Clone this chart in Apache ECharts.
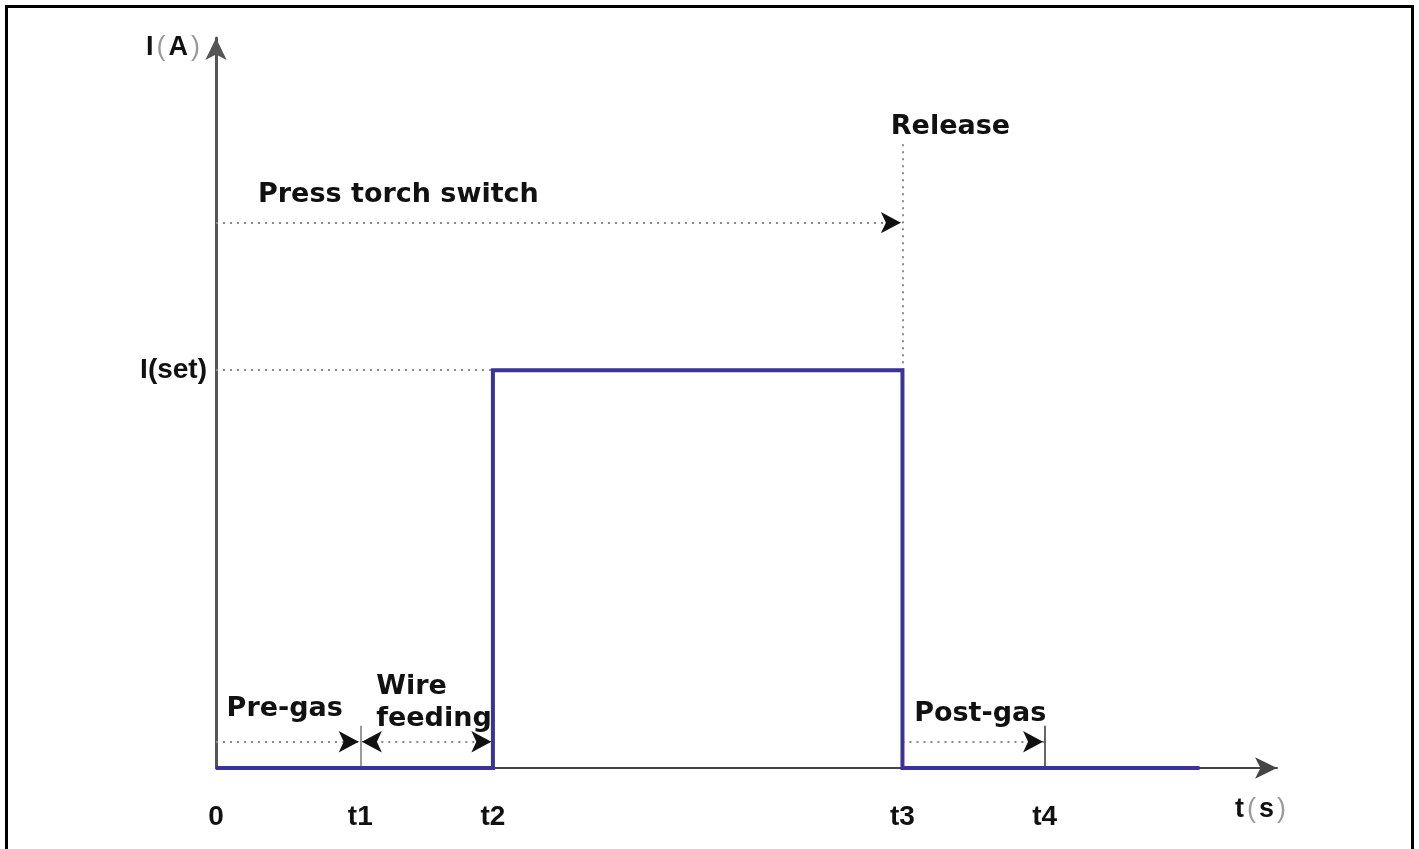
<!DOCTYPE html>
<html><head><meta charset="utf-8">
<script src="https://cdn.jsdelivr.net/npm/echarts@6/dist/echarts.min.js"></script>
<style>html,body{margin:0;padding:0;background:#fff}#c{width:1419px;height:849px}</style>
</head><body><div id="c"></div>
<script>
// ---- data (time in arbitrary units, current in % of axis) ----
const tickValues = [0, 13.6, 26.1, 64.7, 78.1];
const tickLabels = ['0', 't1', 't2', 't3', 't4'];
const tEnd = 92.7;
const iSet = 54.5;
const iSetLabel = 'I(set)';
const currentT = [0, 26.1, 26.1, 64.7, 64.7, 92.7];
const currentI = [0, 0, 54.5, 54.5, 0, 0];
const switchLevel = 74.7;
const releaseTop = 85.6;
const gasLevel = 3.6;
const markerTop = 5.8;
const annotationTexts = ['Press torch switch', 'Release', 'Pre-gas', 'Wire', 'feeding', 'Post-gas'];

// ---- layout (positions of annotations) ----
const annotationPos = [[3.96, 78.5], [63.6, 87.8], [1.0, 8.1], [15.1, 11.1], [15.1, 6.7], [65.8, 7.4]];

const [t0, t1, t2, t3, t4] = tickValues;
const pxPerX = 1061 / 100;
const arrowLen = 20, arrowW = 16;

const dotted = [
  [[t0, iSet], [t2, iSet]],
  [[t0, switchLevel], [t3, switchLevel]],
  [[t3, iSet], [t3, releaseTop]],
  [[t0, gasLevel], [t1, gasLevel]],
  [[t1, gasLevel], [t2, gasLevel]],
  [[t3, gasLevel], [t4, gasLevel]]
];
const markers = [
  [[t1, 0], [t1, markerTop]],
  [[t4, 0], [t4, markerTop]]
];
const arrows = [
  [t3, switchLevel, 1],
  [t1, gasLevel, 1],
  [t1, gasLevel, -1],
  [t2, gasLevel, 1],
  [t4, gasLevel, 1]
];

const mlData = [];
dotted.forEach(s => mlData.push([
  {coord: s[0], symbol: 'none', lineStyle: {color: '#8a8a8a', width: 2, type: [2, 5]}},
  {coord: s[1], symbol: 'none'}
]));
markers.forEach((s, i) => mlData.push([
  {coord: s[0], symbol: 'none', lineStyle: {color: i === 0 ? '#9a9a9a' : '#333', width: i === 0 ? 2 : 1.5, type: 'solid'}},
  {coord: s[1], symbol: 'none'}
]));
arrows.forEach(a => {
  const [x, y, d] = a;
  const endX = x - d * 0.15;
  mlData.push([
    {coord: [endX - d * 0.4, y], symbol: 'none', lineStyle: {color: '#111', width: 0.5, type: 'solid'}},
    {coord: [endX, y], symbol: 'arrow', symbolSize: [arrowW, arrowLen]}
  ]);
});

const textStyleBold = {fontFamily: 'DejaVu Sans', fontWeight: 'bold', fontSize: 27, color: '#111', opacity: 1};

const chart = echarts.init(document.getElementById('c'), null, {renderer: 'canvas'});
chart.setOption({
  animation: false,
  backgroundColor: '#fff',
  grid: {left: 216, right: 142, top: 38, bottom: 81},
  xAxis: {
    type: 'value', min: 0, max: 100,
    splitLine: {show: false},
    axisLine: {lineStyle: {color: '#444', width: 2}, symbol: ['none', 'arrow'], symbolSize: [16, 22]},
    axisTick: {show: false},
    axisLabel: {
      customValues: tickValues,
      formatter: v => tickLabels[tickValues.indexOf(v)],
      margin: 35,
      fontFamily: 'Liberation Sans', fontWeight: 'bold', fontSize: 28, color: '#111'
    },
    name: '{b|t}{p|(}{b|s}{p|)}',
    nameLocation: 'end',
    nameGap: -42,
    nameTextStyle: {
      align: 'left', verticalAlign: 'top', padding: [28, 0, 0, 0],
      rich: {
        b: {fontFamily: 'Liberation Sans', fontWeight: 'bold', fontSize: 27, color: '#111'},
        p: {fontFamily: 'Liberation Sans', fontSize: 27, color: '#9a9a9a', padding: [0, 3, 0, 3]}
      }
    }
  },
  yAxis: {
    type: 'value', min: 0, max: 100,
    splitLine: {show: false},
    axisLine: {show: true, lineStyle: {color: '#555', width: 3}, symbol: ['none', 'arrow'], symbolSize: [16, 22]},
    axisTick: {show: false},
    axisLabel: {
      customValues: [iSet],
      formatter: () => iSetLabel,
      margin: 9,
      fontFamily: 'Liberation Sans', fontWeight: 'bold', fontSize: 28, color: '#111'
    },
    name: '{b|I}{p|(}{b|A}{p|)}',
    nameLocation: 'end',
    nameGap: -10,
    nameTextStyle: {
      align: 'right', verticalAlign: 'middle', padding: [0, 13, 0, 0],
      rich: {
        b: {fontFamily: 'Liberation Sans', fontWeight: 'bold', fontSize: 27, color: '#111'},
        p: {fontFamily: 'Liberation Sans', fontSize: 27, color: '#9a9a9a', padding: [0, 3, 0, 3]}
      }
    }
  },
  graphic: [{
    type: 'rect', silent: true, z: 100,
    shape: {x: 6.5, y: 6.5, width: 1406, height: 900},
    style: {fill: 'none', stroke: '#000', lineWidth: 3}
  }],
  series: [
    {
      type: 'line', data: [], silent: true,
      markLine: {silent: true, animation: false, label: {show: false}, emphasis: {disabled: true}, data: mlData}
    },
    {
      type: 'line', silent: true, z: 5,
      data: currentT.map((t, i) => [t, currentI[i]]),
      symbol: 'none',
      lineStyle: {color: '#3b3397', width: 4, join: 'miter'}
    },
    {
      type: 'scatter', silent: true, symbolSize: 0,
      itemStyle: {opacity: 1},
      data: annotationTexts.map((t, i) => ({value: annotationPos[i], name: t})),
      label: {
        show: true, position: 'right', distance: 0, formatter: p => p.name,
        align: 'left', verticalAlign: 'middle', ...textStyleBold
      }
    }
  ]
});
</script></body></html>
